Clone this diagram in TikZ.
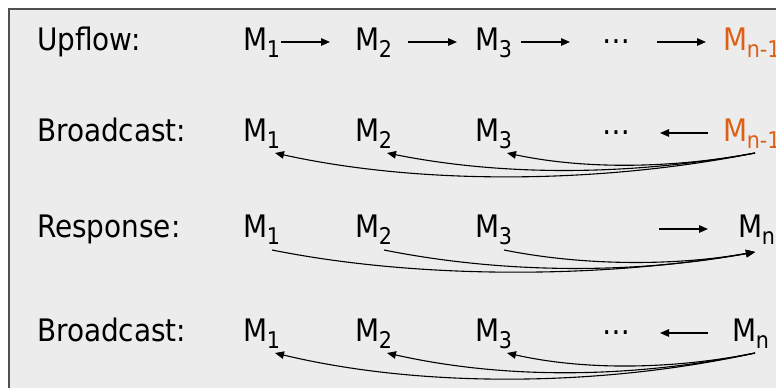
\documentclass[tikz,border=0pt]{standalone}
\usepackage{fontspec}
\setmainfont{DejaVu Sans Condensed}
\usepackage{xcolor}
\usetikzlibrary{arrows.meta,calc}
\definecolor{frameFill}{HTML}{ECECEC}
\definecolor{frameLine}{HTML}{505050}
\definecolor{leadOrange}{HTML}{DD5F16}
\newcommand{\Msub}[1]{M\kern-0.5pt\raisebox{-7pt}{\fontsize{23}{26}\selectfont #1}}

\begin{document}
\begin{tikzpicture}[x=1pt, y=-1pt, >={Triangle[length=9pt,width=7.5pt]},
  font=\fontsize{31}{36}\selectfont,
  lbl/.style={anchor=base west, inner sep=0pt},
  msg/.style={anchor=base west, inner sep=0pt},
  ellip/.style={anchor=base west, inner sep=0pt},
  arr/.style={->, line width=1.3pt},
  curvarr/.style={->, line width=1.1pt}]
  \useasboundingbox (0,0) rectangle (776,388);
  \clip (0,0) rectangle (776,388);
  \draw[frameLine, fill=frameFill, line width=1.5pt] (9,9) rectangle (820,420);

  % upflow
  \node[lbl] (lup) at (37,50) {Upflow:};
  \node[msg] (u1) at (243,50) {\Msub{1}};
  \node[msg] (u2) at (355,50) {\Msub{2}};
  \node[msg] (u3) at (475,50) {\Msub{3}};
  \node[ellip] (ud) at (602,43.5) {…};
  \node[msg, text=leadOrange] (un) at (723,50) {\Msub{n-1}};
  \draw[arr] ([shift={(38pt,8pt)}]u1.base west) -- ([shift={(-25pt,8pt)}]u2.base west);
  \draw[arr] ([shift={(53pt,8pt)}]u2.base west) -- ([shift={(-18pt,8pt)}]u3.base west);
  \draw[arr] ([shift={(46pt,8pt)}]u3.base west) -- ([shift={(-32pt,1.5pt)}]ud.base west);
  \draw[arr] ([shift={(55pt,1.5pt)}]ud.base west) -- ([shift={(-17pt,8pt)}]un.base west);

  % first broadcast
  \node[lbl] (lb1) at (37,141) {Broadcast:};
  \node[msg] (b1) at (243,141) {\Msub{1}};
  \node[msg] (b2) at (355,141) {\Msub{2}};
  \node[msg] (b3) at (475,141) {\Msub{3}};
  \node[ellip] (bd) at (602,134.5) {…};
  \node[msg, text=leadOrange] (bn) at (723,141) {\Msub{n-1}};
  \draw[arr] ([shift={(-15pt,8pt)}]bn.base west) -- ([shift={(58pt,1.5pt)}]bd.base west);
  \draw[curvarr] ([shift={(32pt,-12pt)}]bn.base west) .. controls +(-150,30) and +(150,33) .. ([shift={(32pt,-12pt)}]b1.base west);
  \draw[curvarr] ([shift={(32pt,-12pt)}]bn.base west) .. controls +(-120,22) and +(120,24) .. ([shift={(32pt,-12pt)}]b2.base west);
  \draw[curvarr] ([shift={(32pt,-12pt)}]bn.base west) .. controls +(-80,15) and +(80,17) .. ([shift={(32pt,-12pt)}]b3.base west);

  % response
  \node[lbl] (lres) at (37,237) {Response:};
  \node[msg] (r1) at (243,237) {\Msub{1}};
  \node[msg] (r2) at (355,237) {\Msub{2}};
  \node[msg] (r3) at (475,237) {\Msub{3}};
  \node[msg] (rn) at (738,237) {\Msub{n}};
  \draw[arr] ([shift={(-79pt,8pt)}]rn.base west) -- ([shift={(-30pt,8pt)}]rn.base west);
  \draw[curvarr] ([shift={(29pt,-13pt)}]r1.base west) .. controls +(150,30) and +(-150,26) .. ([shift={(17pt,-15pt)}]rn.base west);
  \draw[curvarr] ([shift={(29pt,-13pt)}]r2.base west) .. controls +(120,24) and +(-120,22) .. ([shift={(17pt,-15pt)}]rn.base west);
  \draw[curvarr] ([shift={(29pt,-13pt)}]r3.base west) .. controls +(80,16) and +(-80,14) .. ([shift={(17pt,-15pt)}]rn.base west);

  % second broadcast
  \node[lbl] (lb2) at (37,341) {Broadcast:};
  \node[msg] (c1) at (243,341) {\Msub{1}};
  \node[msg] (c2) at (355,341) {\Msub{2}};
  \node[msg] (c3) at (475,341) {\Msub{3}};
  \node[ellip] (cd) at (602,334.5) {…};
  \node[msg] (cn) at (732,341) {\Msub{n}};
  \draw[arr] ([shift={(-24pt,8pt)}]cn.base west) -- ([shift={(58pt,1.5pt)}]cd.base west);
  \draw[curvarr] ([shift={(23pt,-12pt)}]cn.base west) .. controls +(-150,33) and +(150,36) .. ([shift={(32pt,-12pt)}]c1.base west);
  \draw[curvarr] ([shift={(23pt,-12pt)}]cn.base west) .. controls +(-120,25) and +(120,27) .. ([shift={(32pt,-12pt)}]c2.base west);
  \draw[curvarr] ([shift={(23pt,-12pt)}]cn.base west) .. controls +(-80,16) and +(80,18) .. ([shift={(32pt,-12pt)}]c3.base west);
\end{tikzpicture}
\end{document}
